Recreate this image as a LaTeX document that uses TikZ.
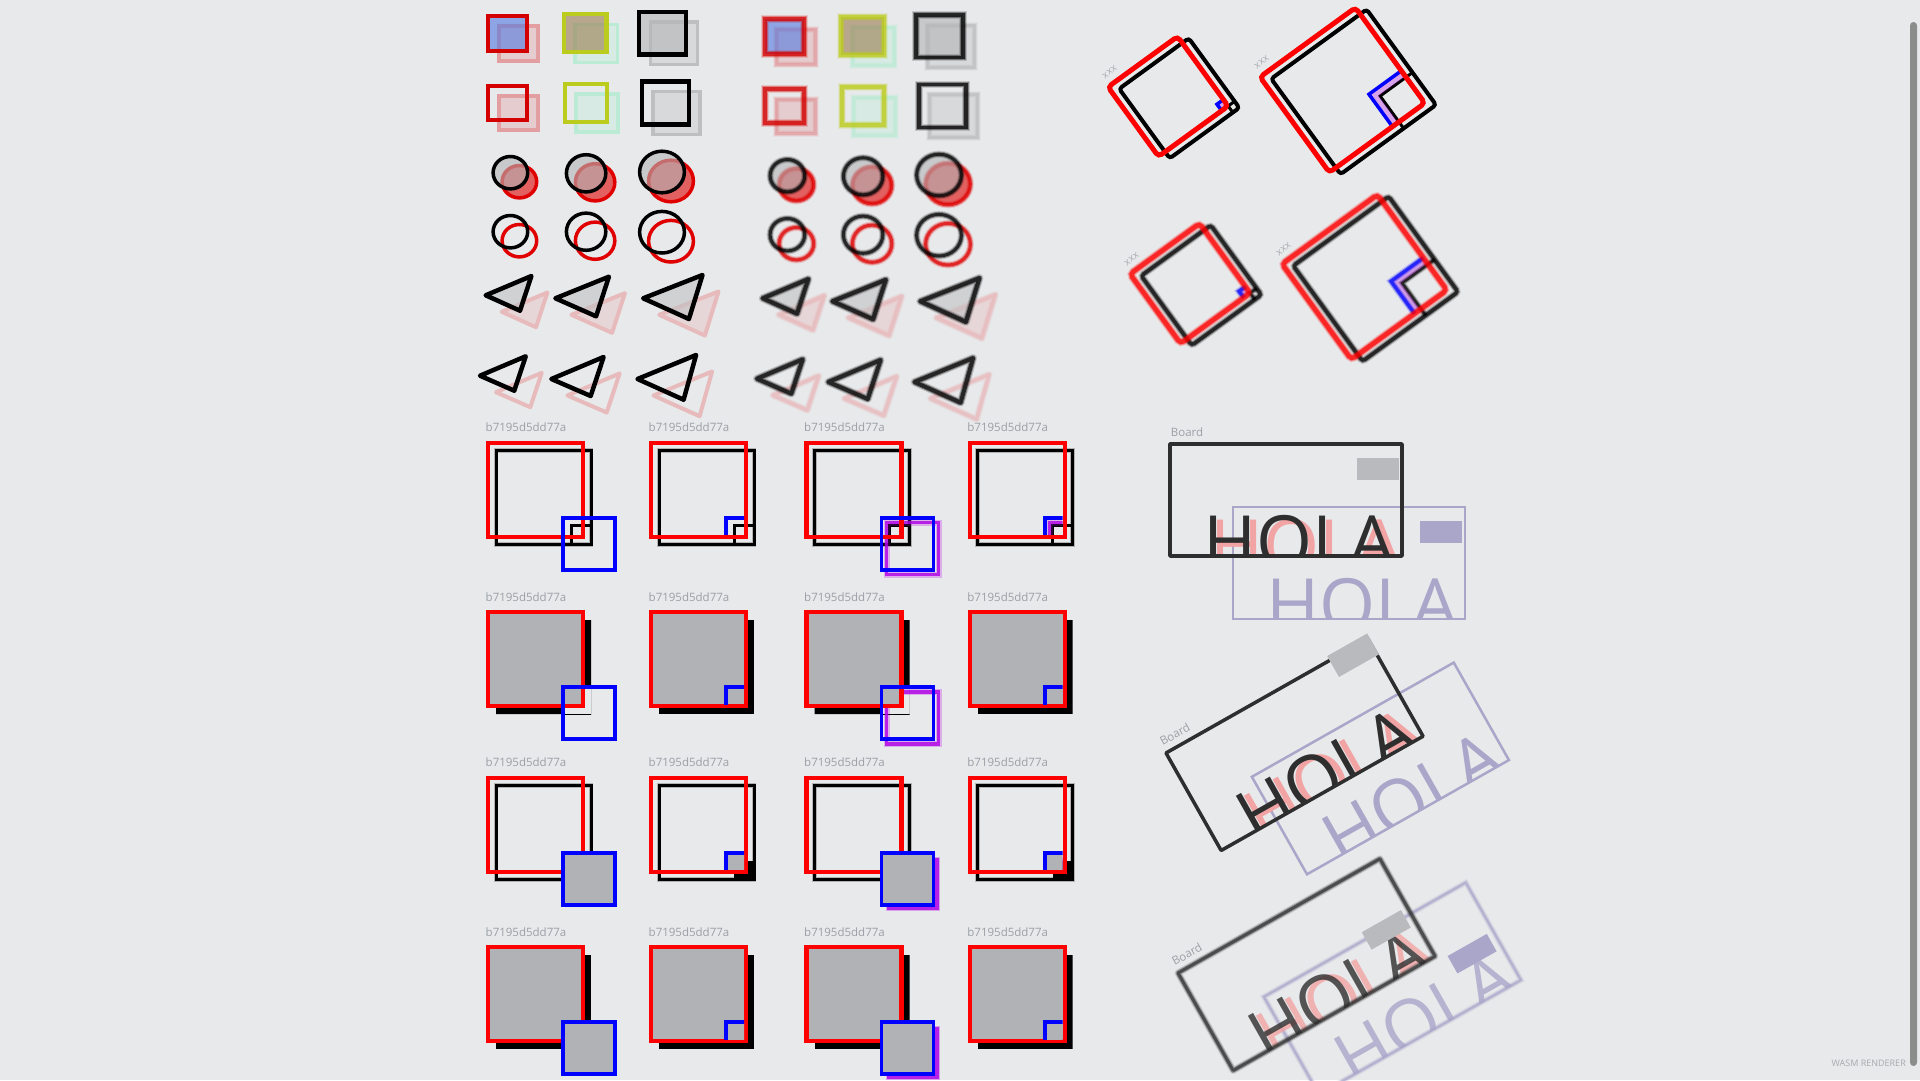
\documentclass[tikz,border=0pt]{standalone}
\usepackage{fontspec}
\newfontfamily\osans{Open Sans}
\definecolor{bgc}{HTML}{E8E9EB}
\definecolor{lblc}{HTML}{9AA0A6}
\definecolor{redc}{HTML}{FF0000}
\definecolor{redA}{HTML}{D40000}
\definecolor{cred}{HTML}{E00000}
\definecolor{bluec}{HTML}{0000FF}
\definecolor{purc}{HTML}{B000E6}
\definecolor{greyf}{HTML}{B1B2B5}
\definecolor{darkc}{HTML}{2E2E2E}
\definecolor{shc}{HTML}{A9A6CA}
\definecolor{pinkc}{HTML}{F2A3A3}
\definecolor{yelc}{HTML}{BCCC1E}
\definecolor{mintc}{HTML}{5FEFA5}
\definecolor{gshc}{HTML}{666666}
\definecolor{sqblue}{HTML}{5378E1}
\definecolor{sqtan}{HTML}{987B4D}
\definecolor{sqgrey}{HTML}{B4B5B7}
\definecolor{tgrey}{HTML}{C0C1C3}
\definecolor{scrollc}{HTML}{8B8D8B}
\definecolor{wasmc}{HTML}{A6A9AC}
\definecolor{greyr}{HTML}{B9BABD}
\tikzset{
  lbl/.style={font=\osans\fontsize{11.5}{13}\selectfont, text=lblc, inner sep=0pt},
  hola/.style={font=\osans\fontsize{72}{72}\selectfont, anchor=base west, inner sep=0pt, transform shape},
}
\newif\ifblur
% blurred-or-sharp stroke
\newcommand\bl[3]{\ifblur
  \draw[#1, line width=#2+3.5, draw opacity=.15] #3;
  \draw[#1, line width=#2+1.5, draw opacity=.35] #3;
  \draw[#1, line width=#2-0.5, draw opacity=.7] #3;
  \else \draw[#1, line width=#2] #3; \fi}
% squares
\newcommand\SqF[7]{\begin{scope}[shift={(#3,#4)}]
  \fill[#2!12!bgc] (11,10) rectangle ++(#5,#6);
  \bl{#2!32!bgc}{3.5}{(11,10) rectangle ++(#5,#6)}
  \fill[#7, fill opacity=.6] (0,0) rectangle (#5,#6);
  \bl{#1}{4.3}{(0,0) rectangle (#5,#6)}
\end{scope}}
\newcommand\SqO[6]{\begin{scope}[shift={(#3,#4)}]
  \fill[#2!12!bgc] (11,10) rectangle ++(#5,#6);
  \bl{#2!32!bgc}{3.5}{(11,10) rectangle ++(#5,#6)}
  \bl{#1}{4.3}{(0,0) rectangle (#5,#6)}
\end{scope}}
% ellipses: x, y, rx, ry
\newcommand\CiF[4]{\begin{scope}[shift={(#1,#2)}]
  \fill[cred!59!bgc] (9,9) ellipse[x radius=#3, y radius=#4];
  \bl{cred}{3.5}{(9,9) ellipse[x radius=#3, y radius=#4]}
  \fill[sqgrey, fill opacity=.6] (0,0) ellipse[x radius=#3, y radius=#4];
  \bl{black}{3.5}{(0,0) ellipse[x radius=#3, y radius=#4]}
\end{scope}}
\newcommand\CiO[4]{\begin{scope}[shift={(#1,#2)}]
  \bl{cred}{3.5}{(9,9) ellipse[x radius=#3, y radius=#4]}
  \bl{black}{3.5}{(0,0) ellipse[x radius=#3, y radius=#4]}
\end{scope}}
% triangles
\newcommand\TrF[6]{%
  \begin{scope}[shift={(16,16.5)}]
    \fill[cred!8!bgc] (#1,#2)--(#3,#4)--(#5,#6)--cycle;
    \bl{cred!20!bgc, line join=round}{4}{(#1,#2)--(#3,#4)--(#5,#6)--cycle}
  \end{scope}
  \fill[tgrey, fill opacity=.6] (#1,#2)--(#3,#4)--(#5,#6)--cycle;
  \bl{black, line join=round}{4.5}{(#1,#2)--(#3,#4)--(#5,#6)--cycle}}
\newcommand\TrO[6]{%
  \begin{scope}[shift={(16,16.5)}]
    \bl{cred!20!bgc, line join=round}{4}{(#1,#2)--(#3,#4)--(#5,#6)--cycle}
  \end{scope}
  \bl{black, line join=round}{4.5}{(#1,#2)--(#3,#4)--(#5,#6)--cycle}}
\newcommand\shapegroup{%
  \SqF{redA}{redA}{488}{16}{39}{35}{sqblue}
  \SqF{yelc}{mintc}{564}{14.3}{42.6}{38}{sqtan}
  \SqF{black}{gshc}{639.3}{12.2}{47}{42.3}{sqgrey}
  \SqO{redA}{redA}{488}{86}{39}{34}
  \SqO{yelc}{mintc}{565}{84}{42}{38}
  \SqO{black}{gshc}{641.8}{81.5}{47.4}{43}
  \CiF{510.4}{172.7}{17.3}{16.2}\CiF{586.1}{173.3}{19.7}{18.6}\CiF{662}{172}{22.4}{20.8}
  \CiO{510.4}{231.7}{17.3}{16.2}\CiO{586.1}{231.7}{19.7}{18.6}\CiO{662}{232.2}{22.4}{20.8}
  \TrF{485.7}{295.3}{531.4}{276}{520}{310.7}
  \TrF{555.4}{298.3}{608.9}{276.7}{596.1}{316.3}
  \TrF{643.2}{298.3}{702.5}{275}{688.9}{319}
  \TrO{480}{375.7}{525.7}{356.3}{514.3}{390.7}
  \TrO{551.4}{379}{603.6}{357}{590.7}{396}
  \TrO{637.5}{379}{696.1}{355}{683.6}{399.7}}
% grid frame: X, Y, clip, purple, framefill, childfill
\newcommand\GF[6]{\begin{scope}[shift={(#1,#2)}]
  \node[lbl, anchor=base west] at (-2.5,-11) {b7195d5dd77a};
  \ifnum#5=1
    \begin{scope}
      \clip (8,8) rectangle (103,102);
      \ifnum#3=0 \ifnum#6=0
        \fill[black, even odd rule] (8,8) rectangle (103,102) (75,75) rectangle (127,127);
      \else \fill[black] (8,8) rectangle (103,102); \fi
      \else \fill[black] (8,8) rectangle (103,102); \fi
    \end{scope}
  \else
    \draw[black!30, line width=4.5] (8,8) rectangle (103,102);
    \draw[black, line width=3] (8,8) rectangle (103,102);
    \begin{scope}
      \clip (8,8) rectangle (103,102);
      \ifnum#6=1 \fill[black] (83,83) rectangle (135,135);
      \else \draw[black, line width=3] (83,83) rectangle (135,135); \fi
    \end{scope}
  \fi
  \ifnum#4=1
    \begin{scope}
      \ifnum#3=1 \clip (2,2) rectangle (93,92); \fi
      \ifnum#6=1
        \fill[purc, opacity=.3] (79,79) rectangle (133,133);
        \fill[purc, opacity=.8] (80,80) rectangle (132,132);
      \else
        \draw[purc, line width=6, opacity=.25] (80,80) rectangle (132,132);
        \draw[purc, line width=3.5, opacity=.8] (80,80) rectangle (132,132);
      \fi
    \end{scope}
  \fi
  \ifnum#5=1 \fill[greyf] (0,0) rectangle (95,94); \fi
  \draw[redc, line width=4.3] (0,0) rectangle (95,94);
  \begin{scope}
    \ifnum#3=1 \clip (2,2) rectangle (93,92); \fi
    \ifnum#6=1 \fill[greyf] (75,75) rectangle (127,127); \fi
    \draw[bluec, line width=3.7] (75,75) rectangle (127,127);
  \end{scope}
\end{scope}}
% rotated square group
\newcommand\RSq[1]{%
  \bl{black, rounded corners=3}{4}{(8,8) rectangle ++(#1,#1)}
  \begin{scope}
    \clip (8,8) rectangle ++(#1,#1);
    \bl{black}{3}{(86,86) rectangle ++(45,45)}
  \end{scope}
  \begin{scope}
    \clip (0,0) rectangle (#1,#1);
    \draw[purc, line width=6, opacity=.3] (82,82) rectangle ++(45,45);
    \bl{bluec}{3.5}{(78,78) rectangle ++(45,45)}
  \end{scope}
  \bl{redc, rounded corners=4}{5}{(0,0) rectangle (#1,#1)}
  \node[lbl, font=\osans\fontsize{10}{12}\selectfont, text=lblc!85!white, transform shape] at (10,-11) {xxx};}
% HOLA text
\newcommand\Hola[2]{\ifblur
  \node[hola, text=#1, opacity=.8] at #2 {HOLA};
  \else \node[hola, text=#1] at #2 {HOLA}; \fi}
% board: grey x, y, w, h, shadow grey
\newcommand\Board[5]{%
  \begin{scope}[shift={(63,63)}]
    \begin{scope}
      \clip (0,0) rectangle (232,112);
      \Hola{shc}{(33,123.4)}
      \ifnum#5=1 \fill[shc] (#1,#2) rectangle ++(#3,#4); \fi
    \end{scope}
    \bl{shc}{2.5}{(0,0) rectangle (232,112)}
  \end{scope}
  \node[lbl, transform shape] at (17,-12) {Board};
  \begin{scope}
    \clip (0,0) rectangle (232,112);
    \Hola{pinkc}{(40,127.4)}
    \Hola{darkc}{(33,123.4)}
  \end{scope}
  \bl{darkc, line join=round}{3.5}{(0,0) rectangle (232,112)}
  \fill[greyr] (#1,#2) rectangle ++(#3,#4);}
\begin{document}
\begin{tikzpicture}[x=1pt, y=-1pt]
\useasboundingbox (0,0) rectangle (1920,1080);
\fill[bgc] (0,0) rectangle (1920,1080);
% top-left shape sets
\blurfalse
\begin{scope}\shapegroup\end{scope}
\blurtrue
\begin{scope}[shift={(277,3)}]\shapegroup\end{scope}
\blurfalse
% rotated squares
\begin{scope}[shift={(1108,87)}, rotate=36]\RSq{86}\end{scope}
\begin{scope}[shift={(1260,77)}, rotate=36]\RSq{118}\end{scope}
\blurtrue
\begin{scope}[shift={(1130,274)}, rotate=36]\RSq{86}\end{scope}
\begin{scope}[shift={(1282,264)}, rotate=36]\RSq{118}\end{scope}
\blurfalse
% grid frames
\GF{488}{442.7}{0}{0}{0}{0}\GF{651}{442.7}{1}{0}{0}{0}\GF{806.5}{442.7}{0}{1}{0}{0}\GF{969.7}{442.7}{1}{1}{0}{0}
\GF{488}{612}{0}{0}{1}{0}\GF{651}{612}{1}{0}{1}{0}\GF{806.5}{612}{0}{1}{1}{0}\GF{969.7}{612}{1}{1}{1}{0}
\GF{488}{777.7}{0}{0}{0}{1}\GF{651}{777.7}{1}{0}{0}{1}\GF{806.5}{777.7}{0}{1}{0}{1}\GF{969.7}{777.7}{1}{1}{0}{1}
\GF{488}{947}{0}{0}{1}{1}\GF{651}{947}{1}{0}{1}{1}\GF{806.5}{947}{0}{1}{1}{1}\GF{969.7}{947}{1}{1}{1}{1}
% boards
\begin{scope}[shift={(1170,444)}]\Board{187}{14}{42}{22}{1}\end{scope}
\begin{scope}[shift={(1166,753)}, rotate=29.5]\Board{188}{-5}{46}{24}{0}\end{scope}
\blurtrue
\begin{scope}[shift={(1178,973)}, rotate=29.5]\Board{180}{55}{45}{20}{1}\end{scope}
\blurfalse
% scrollbar and footer
\fill[scrollc, rounded corners=3.5] (1910,22) rectangle (1917,1066);
\node[font=\osans\fontsize{9}{10}\selectfont, text=wasmc, anchor=base east, inner sep=0pt] (wasm) at (1906,1066.5) {WASM RENDERER};
\end{tikzpicture}
\end{document}
